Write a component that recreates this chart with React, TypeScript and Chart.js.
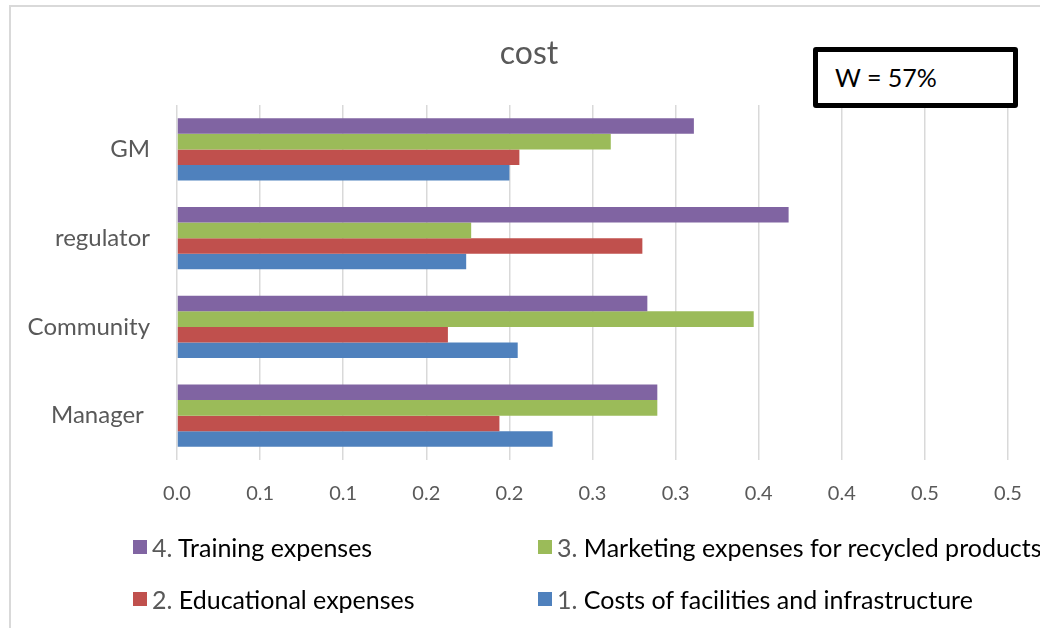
import React, { useEffect, useRef } from "react";
import { Chart, registerables } from "chart.js";

Chart.register(...registerables);

// Stakeholder groups, listed top to bottom
const categories = ["GM", "regulator", "Community", "Manager "];

// Cost shares per stakeholder group
const trainingExpenses = [0.311, 0.368, 0.283, 0.289];
const marketingExpenses = [0.261, 0.177, 0.347, 0.289];
const educationalExpenses = [0.206, 0.28, 0.163, 0.194];
const facilitiesCosts = [0.2, 0.174, 0.205, 0.226];

const seriesNames = [
  "4. Training expenses",
  "3. Marketing expenses for recycled products",
  "2. Educational expenses",
  "1. Costs of facilities and infrastructure",
];
const seriesColors = ["#8064A2", "#9BBB59", "#C0504D", "#4F81BD"];

// Axis tick labels, one per 0.05 step
const xTickLabels = ["0.0", "0.1", "0.1", "0.2", "0.2", "0.3", "0.3", "0.4", "0.4", "0.5", "0.5"];

const titleText = "cost";
const noteText = "W = 57%";

const FONT = "Lato, 'Open Sans', sans-serif";

// Plot area edges in page pixels
const PLOT_LEFT = 177;
const PLOT_RIGHT = 1008;
const PLOT_TOP = 105;
const PLOT_BOTTOM = 460;

export default function App() {
  const canvasRef = useRef<HTMLCanvasElement | null>(null);

  useEffect(() => {
    const canvas = canvasRef.current;
    if (!canvas) return;
    const values = [trainingExpenses, marketingExpenses, educationalExpenses, facilitiesCosts];
    const chart = new Chart(canvas, {
      type: "bar",
      data: {
        labels: categories,
        datasets: values.map((data, i) => ({
          label: seriesNames[i],
          data,
          backgroundColor: seriesColors[i],
          borderWidth: 0,
          categoryPercentage: 0.7,
          barPercentage: 1.0,
        })),
      },
      options: {
        indexAxis: "y",
        animation: false,
        responsive: false,
        layout: { autoPadding: false, padding: { left: 0, right: 1040 - PLOT_RIGHT, top: PLOT_TOP, bottom: 628 - PLOT_BOTTOM - 50 } },
        plugins: {
          legend: { display: false },
          title: { display: false },
          tooltip: { enabled: false },
        },
        scales: {
          x: {
            min: 0,
            max: 0.5,
            border: { display: false },
            grid: { color: "#d9d9d9", lineWidth: 1.5, drawTicks: false },
            ticks: {
              stepSize: 0.05,
              padding: 22,
              color: "#595959",
              font: { family: FONT, size: 20 },
              callback: (_v: any, index: number) => xTickLabels[index],
            },
            afterFit: (scale: any) => {
              scale.height = 50;
              scale.paddingLeft = 0;
              scale.paddingRight = 0;
            },
          },
          y: {
            border: { display: false },
            grid: { display: false },
            ticks: {
              padding: 19,
              color: "#595959",
              font: { family: FONT, size: 24 },
            },
            afterFit: (scale: any) => {
              scale.width = PLOT_LEFT;
            },
          },
        },
      },
    });
    return () => chart.destroy();
  }, []);

  const legendPos = [
    { left: 133, top: 540 },
    { left: 538, top: 540 },
    { left: 133, top: 592 },
    { left: 538, top: 592 },
  ];

  return (
    <div
      style={{
        position: "fixed",
        left: 0,
        top: 0,
        width: 1040,
        height: 628,
        background: "#ffffff",
        overflow: "hidden",
        fontFamily: FONT,
      }}
    >
      <div
        style={{
          position: "absolute",
          left: 9,
          top: 5,
          width: 1100,
          height: 700,
          border: "2px solid #d9d9d9",
        }}
      />
      <canvas ref={canvasRef} width={1040} height={628} style={{ position: "absolute", left: 0, top: 0 }} />
      <div
        style={{
          position: "absolute",
          left: 0,
          top: 32,
          width: 1058,
          textAlign: "center",
          fontSize: 32,
          lineHeight: "40px",
          color: "#595959",
        }}
      >
        {titleText}
      </div>
      <div
        style={{
          position: "absolute",
          left: 813,
          top: 47,
          width: 205,
          height: 61,
          boxSizing: "border-box",
          border: "5px solid #000000",
          borderRadius: 3,
          background: "#ffffff",
          color: "#000000",
          fontSize: 25,
          lineHeight: "51px",
          paddingLeft: 17,
        }}
      >
        {noteText}
      </div>
      {seriesNames.map((name, i) => (
        <div
          key={name}
          style={{
            position: "absolute",
            left: legendPos[i].left,
            top: legendPos[i].top,
            display: "flex",
            alignItems: "center",
            height: 14,
            whiteSpace: "nowrap",
          }}
        >
          <span
            style={{
              display: "inline-block",
              width: 14,
              height: 14,
              background: seriesColors[i],
              marginRight: 5,
            }}
          />
          <span style={{ fontSize: 25, color: "#000000", lineHeight: "14px" }}>
            <span style={{ color: "#595959" }}>{name.slice(0, 2)}</span>
            {name.slice(2)}
          </span>
        </div>
      ))}
    </div>
  );
}
